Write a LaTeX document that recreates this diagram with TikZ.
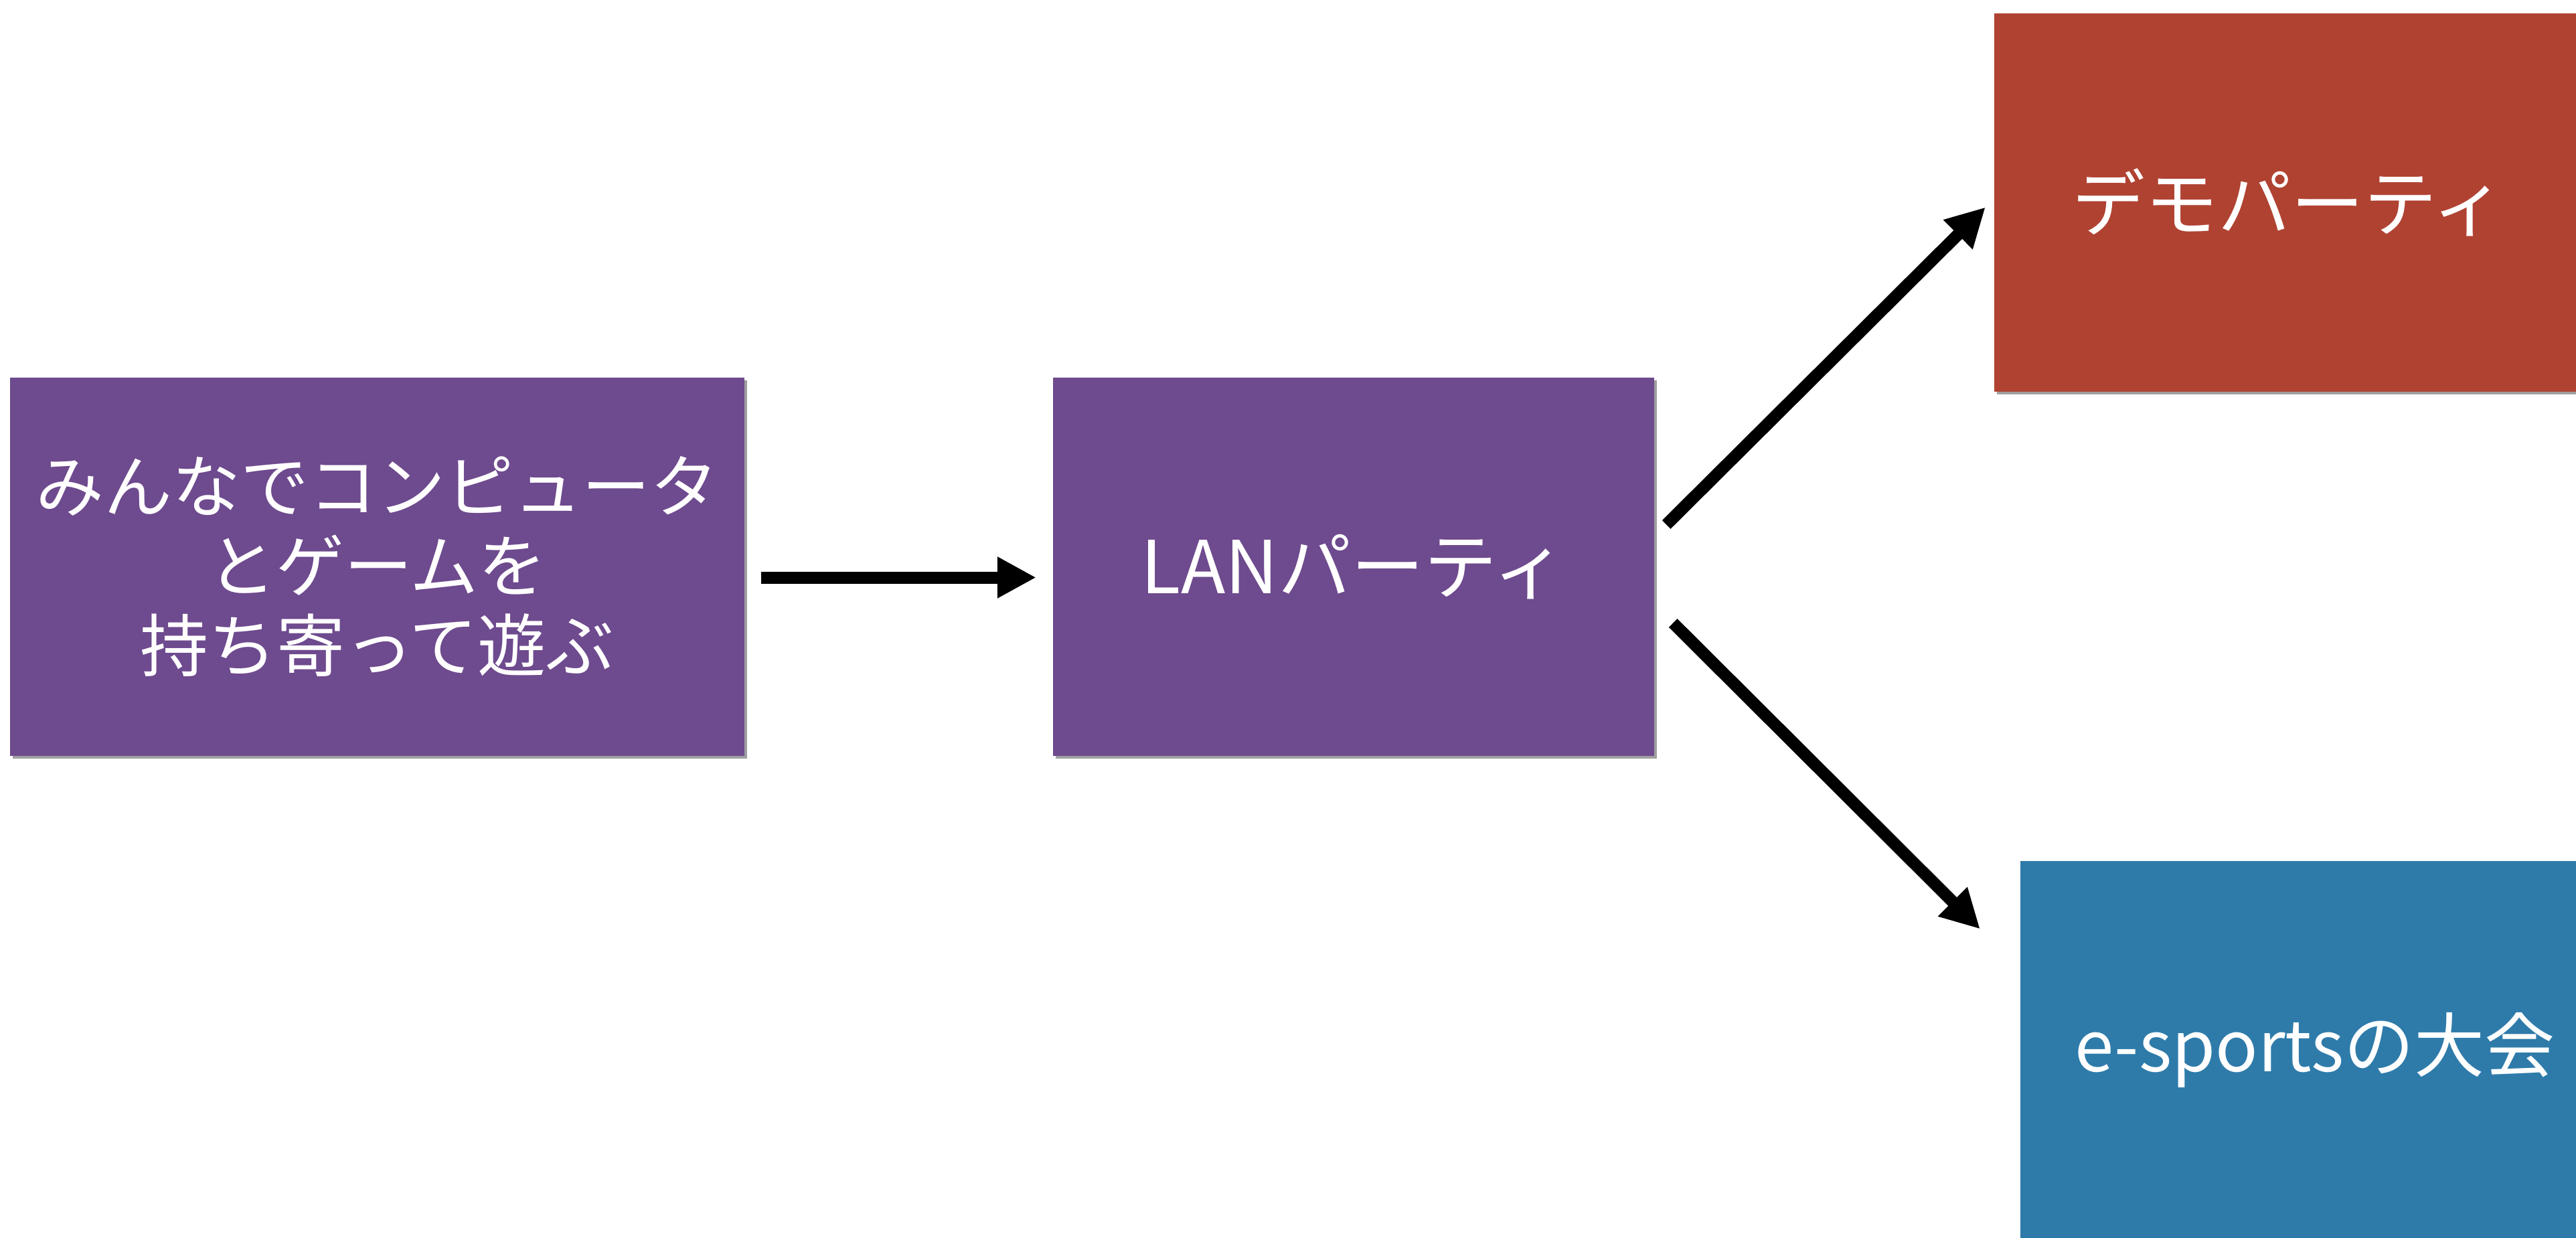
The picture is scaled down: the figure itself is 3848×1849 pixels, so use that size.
\documentclass[tikz,border=0pt]{standalone}
\usepackage{fontspec}
\setmainfont{Noto Sans CJK JP}
\usetikzlibrary{arrows.meta,shadows}
\definecolor{purp}{RGB}{110,74,142}
\definecolor{redb}{RGB}{176,66,50}
\definecolor{blueb}{RGB}{46,123,170}
\tikzset{
  card/.style={draw=none, inner sep=0pt, text=white, align=center,
    minimum height=565pt,
    font=\fontsize{109pt}{120pt}\selectfont,
    drop shadow={shadow xshift=4pt, shadow yshift=-4pt, opacity=0.5, fill=black!75}},
  flow/.style={line width=18pt, -{Triangle[length=58pt,width=58pt]}},
}
\begin{document}
\begin{tikzpicture}[x=1pt,y=-1pt]
\useasboundingbox (0,0) rectangle (3848,1849);
\clip (0,0) rectangle (3848,1849);
\node[card, fill=purp, minimum width=1097pt, font=\fontsize{102pt}{119pt}\selectfont] (b1) at (563.5,846.5)
  {みんなでコンピュータ\\とゲームを\\持ち寄って遊ぶ};
\node[card, fill=purp, minimum width=898pt] (b2) at (2022,846.5) {LANパーティ};
\node[card, fill=redb, minimum width=880pt] (demo) at (3419,302.5) {デモパーティ};
\node[card, fill=blueb, minimum width=880pt, font=\fontsize{105pt}{120pt}\selectfont] (esp) at (3458,1568.5) {e-sportsの大会};
\draw[flow] ([xshift=25pt,yshift=-16pt]b1.east) -- ([xshift=-25pt,yshift=-16pt]b2.west);
\draw[flow] ([xshift=18pt,yshift=63pt]b2.east) -- ([xshift=-13pt,yshift=-7pt]demo.west);
\draw[flow] ([xshift=28pt,yshift=-84pt]b2.east) -- ([xshift=-60pt,yshift=181pt]esp.west);
\end{tikzpicture}
\end{document}
